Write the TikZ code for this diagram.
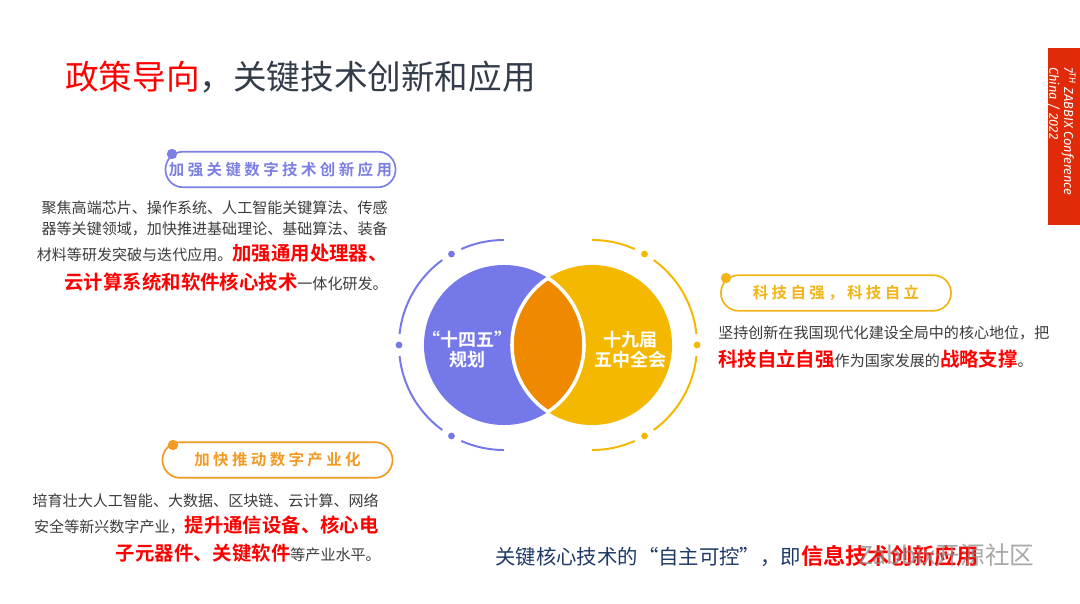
\documentclass[tikz,border=0pt]{standalone}
\usepackage{fontspec}
\setmainfont{Noto Sans CJK SC}[BoldFont={Noto Sans CJK SC Bold}]
\newfontfamily\tagfont{Noto Sans CJK SC Bold}[LetterSpace=22]
\newfontfamily\bannerfont{Fira Sans}
\usetikzlibrary{positioning}
\definecolor{vennpurple}{HTML}{7478E8}
\definecolor{vennyellow}{HTML}{F5B800}
\definecolor{vennorange}{HTML}{EF8A00}
\definecolor{tagpurple}{HTML}{7C80E4}
\definecolor{tagyellow}{HTML}{F2B416}
\definecolor{tagorange}{HTML}{F39A22}
\definecolor{bodygray}{HTML}{3C3C3C}
\definecolor{titlegray}{HTML}{333D4A}
\definecolor{keyred}{HTML}{FF0000}
\definecolor{navytext}{HTML}{1F3A68}
\definecolor{bannerred}{HTML}{E02A08}
\newcommand\keytext[1]{{\color{keyred}\bfseries\fontsize{13.8}{16}\selectfont #1}}

\begin{document}
\begin{tikzpicture}[x=0.025cm, y=-0.025cm,
    tagpill/.style={draw=#1, line width=1.2pt, rounded corners=0.44cm, minimum width=5.75cm, minimum height=0.89cm, inner sep=0pt, text=#1, font=\tagfont\fontsize{11}{13}\selectfont},
    tagdot/.style={circle, fill=#1, inner sep=0pt, minimum size=0.26cm},
    body/.style={inner sep=0pt, text=bodygray, font=\fontsize{10.7}{13}\selectfont},
    ring/.style={line width=1.4pt, #1},
    circtext/.style={inner sep=0pt, align=center, text=white, font=\bfseries\fontsize{12.8}{14.2}\selectfont}]
    \useasboundingbox (0,0) rectangle (1080,604);
    \fill[white] (0,0) rectangle (1080,604);

    % title
    \node[anchor=base west, inner sep=0pt, font=\fontsize{23.9}{28}\selectfont] (title) at (65,90) {\textcolor{keyred}{政策导向}\textcolor{titlegray}{，关键技术创新和应用}};

    % banner
    \fill[bannerred] (1048,48) rectangle (1080,225);
    \node[rotate=-90, anchor=north west, inner sep=0pt, align=left, text=white, font=\bannerfont\itshape\fontsize{9.2}{7.8}\selectfont] (conf) at (1076,67) {7\textsuperscript{TH} ZABBIX Conference\\China / 2022};

    % venn
    \coordinate (lc) at (504,345);
    \coordinate (rc) at (592,345);
    \fill[vennpurple] (lc) circle (2cm);
    \fill[vennyellow] (rc) circle (2cm);
    \begin{scope}
        \clip (lc) circle (2cm);
        \fill[vennorange] (rc) circle (2cm);
        \draw[white, line width=2.5pt] (rc) circle (2cm);
    \end{scope}
    \begin{scope}
        \clip (rc) circle (2cm);
        \draw[white, line width=2.5pt] (lc) circle (2cm);
    \end{scope}
    \foreach \a/\b in {90/114, 126/174, 186/234, 246/270}
        \draw[ring=vennpurple] ([shift={(\a:2.625cm)}]lc) arc[start angle=\a, end angle=\b, radius=2.625cm];
    \foreach \a/\b in {-90/-66, -54/-6, 6/54, 66/90}
        \draw[ring=vennyellow] ([shift={(\a:2.625cm)}]rc) arc[start angle=\a, end angle=\b, radius=2.625cm];
    \foreach \a in {120,180,240}
        \fill[vennpurple] ([shift={(\a:2.625cm)}]lc) circle (0.085cm);
    \foreach \a in {60,0,-60}
        \fill[vennyellow] ([shift={(\a:2.625cm)}]rc) circle (0.085cm);
    \node[circtext] (plan) at (467,350) {“十四五”\\规划};
    \node[circtext] (plenum) at (630,350) {十九届\\五中全会};

    % digital tech
    \node[tagpill=tagpurple] (tagtech) at (280.5,169.5) {加强关键数字技术创新应用};
    \node[tagdot=tagpurple] (tagtechdot) at (172,154) {};
    \node[body, anchor=base east] (tech1) at (388,214) {聚焦高端芯片、操作系统、人工智能关键算法、传感};
    \node[body, anchor=base east] (tech2) at (388,234) {器等关键领域，加快推进基础理论、基础算法、装备};
    \node[body, anchor=base east] (tech3) at (388,260) {材料等研发突破与迭代应用。\keytext{加强通用处理器、}};
    \node[body, anchor=base east] (tech4) at (388,289) {\keytext{云计算系统和软件核心技术}一体化研发。};

    % self reliance
    \node[tagpill=tagyellow] (tagself) at (836,293) {科技自强，科技自立};
    \node[tagdot=tagyellow] (tagselfdot) at (726,278) {};
    \node[body, anchor=base west] (self1) at (718,338) {坚持创新在我国现代化建设全局中的核心地位，把};
    \node[body, anchor=base west] (self2) at (718,366) {\keytext{科技自立自强}作为国家发展的\keytext{战略支撑}。};

    % industry
    \node[tagpill=tagorange] (tagind) at (277.5,460) {加快推动数字产业化};
    \node[tagdot=tagorange] (taginddot) at (173,445) {};
    \node[body, anchor=base east] (ind1) at (379,506) {培育壮大人工智能、大数据、区块链、云计算、网络};
    \node[body, anchor=base east] (ind2) at (379,532) {安全等新兴数字产业，\keytext{提升通信设备、核心电}};
    \node[body, anchor=base east] (ind3) at (381,560) {\keytext{子元器件、关键软件}等产业水平。};

    % slogan and watermark
    \node[anchor=base west, inner sep=0pt, text=navytext, font=\fontsize{14.5}{17}\selectfont] (slogan) at (495,564) {关键核心技术的“自主可控”，即{\color{keyred}\bfseries\fontsize{15.8}{18}\selectfont 信息技术创新应用}};
    \node[anchor=base west, inner sep=0pt, text=black!45, opacity=0.75, font=\fontsize{17.5}{20}\selectfont] (wmark) at (858,564) {Zabbix开源社区};
\end{tikzpicture}
\end{document}
